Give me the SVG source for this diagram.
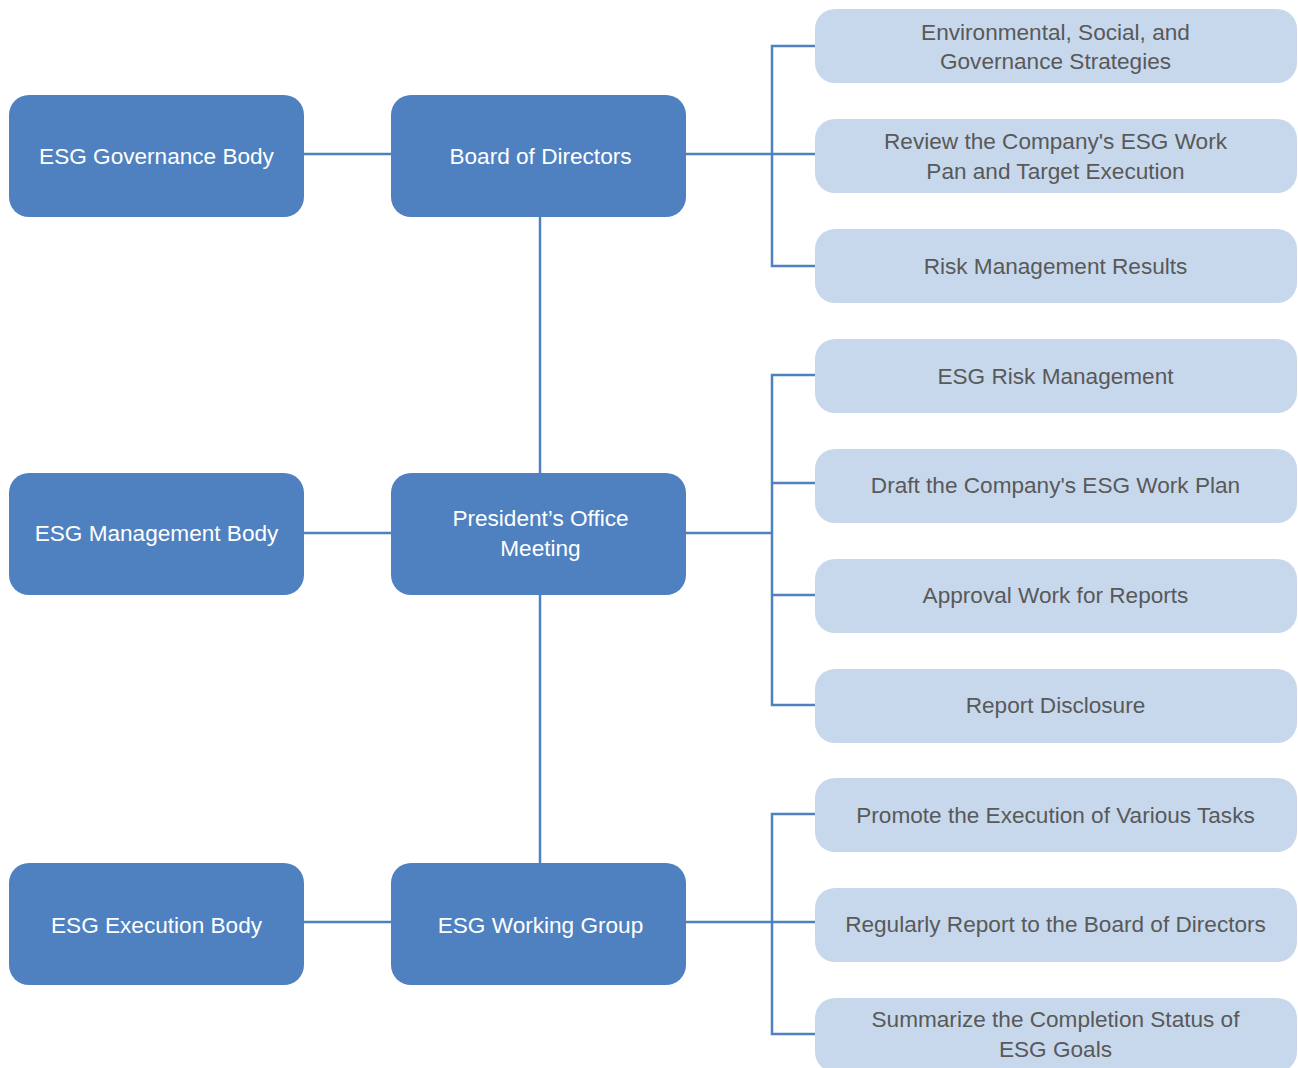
<svg xmlns="http://www.w3.org/2000/svg" width="1298" height="1068" viewBox="0 0 1298 1068">
<style>
.main rect{fill:#4f81c0;}
.main text{fill:#ffffff;font-family:"Liberation Sans",Arial,sans-serif;font-size:22.6px;text-anchor:middle;dominant-baseline:central;}
.sub rect{fill:#c7d8ec;}
.sub text{fill:#595959;font-family:"Liberation Sans",Arial,sans-serif;font-size:22.6px;text-anchor:middle;dominant-baseline:central;}
.conn path{fill:none;stroke:#4f81c0;stroke-width:2.5;}
</style>
<rect width="1298" height="1068" fill="#ffffff"/>
<g class="conn" id="connectors">
<path d="M304 154H391"/>
<path d="M304 533H391"/>
<path d="M304 922H391"/>
<path d="M540 217V473"/>
<path d="M540 595V863"/>
<path d="M686 154H815"/>
<path d="M815 46H772V266H815"/>
<path d="M686 533H772"/>
<path d="M815 375H772V705H815"/>
<path d="M772 483H815"/>
<path d="M772 595H815"/>
<path d="M686 922H815"/>
<path d="M815 814H772V1034H815"/>
</g>
<g class="main" id="n-governance"><rect x="9" y="95" width="295" height="122" rx="20"/><text x="156.5" y="156">ESG Governance Body</text></g>
<g class="main" id="n-management"><rect x="9" y="473" width="295" height="122" rx="20"/><text x="156.5" y="533">ESG Management Body</text></g>
<g class="main" id="n-execution"><rect x="9" y="863" width="295" height="122" rx="20"/><text x="156.5" y="925">ESG Execution Body</text></g>
<g class="main" id="n-board"><rect x="391" y="95" width="295" height="122" rx="20"/><text x="540.5" y="156">Board of Directors</text></g>
<g class="main" id="n-president"><rect x="391" y="473" width="295" height="122" rx="20"/><text x="540.5" y="518">President’s Office</text><text x="540.5" y="548">Meeting</text></g>
<g class="main" id="n-working"><rect x="391" y="863" width="295" height="122" rx="20"/><text x="540.5" y="925">ESG Working Group</text></g>
<g class="sub" id="s1"><rect x="815" y="9" width="482" height="74" rx="20"/><text x="1055.5" y="32">Environmental, Social, and</text><text x="1055.5" y="61">Governance Strategies</text></g>
<g class="sub" id="s2"><rect x="815" y="119" width="482" height="74" rx="20"/><text x="1055.5" y="141">Review the Company's ESG Work</text><text x="1055.5" y="171">Pan and Target Execution</text></g>
<g class="sub" id="s3"><rect x="815" y="229" width="482" height="74" rx="20"/><text x="1055.5" y="266">Risk Management Results</text></g>
<g class="sub" id="s4"><rect x="815" y="339" width="482" height="74" rx="20"/><text x="1055.5" y="376">ESG Risk Management</text></g>
<g class="sub" id="s5"><rect x="815" y="449" width="482" height="74" rx="20"/><text x="1055.5" y="485">Draft the Company's ESG Work Plan</text></g>
<g class="sub" id="s6"><rect x="815" y="559" width="482" height="74" rx="20"/><text x="1055.5" y="595">Approval Work for Reports</text></g>
<g class="sub" id="s7"><rect x="815" y="669" width="482" height="74" rx="20"/><text x="1055.5" y="705">Report Disclosure</text></g>
<g class="sub" id="s8"><rect x="815" y="778" width="482" height="74" rx="20"/><text x="1055.5" y="815">Promote the Execution of Various Tasks</text></g>
<g class="sub" id="s9"><rect x="815" y="888" width="482" height="74" rx="20"/><text x="1055.5" y="924">Regularly Report to the Board of Directors</text></g>
<g class="sub" id="s10"><rect x="815" y="998" width="482" height="74" rx="20"/><text x="1055.5" y="1019">Summarize the Completion Status of</text><text x="1055.5" y="1049">ESG Goals</text></g>
</svg>
